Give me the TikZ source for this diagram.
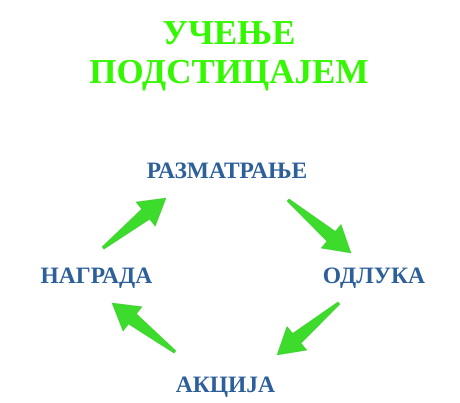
\documentclass[tikz,border=0pt]{standalone}
\usepackage{fontspec}
\setmainfont{Liberation Serif}
\usepackage{tikz}
\usepackage{xcolor}
\usetikzlibrary{calc,positioning}
\definecolor{TitleGreen}{HTML}{33F800}
\definecolor{ArrowGreen}{HTML}{3DDB2B}
\definecolor{StepBlue}{HTML}{2D5F9A}
\tikzset{
  cytitle/.style={text=TitleGreen, font=\fontsize{35}{40}\selectfont\bfseries, anchor=base, inner sep=0pt},
  cystep/.style={text=StepBlue, font=\fontsize{23.5}{26}\selectfont\bfseries, anchor=base, inner sep=0pt},
  cyarrow/.style={fill=ArrowGreen, draw=ArrowGreen!85!black, draw opacity=0.35, line width=0.8pt, line join=round}
}
% tapered block arrow between two named coordinates
\newcommand{\cyclearrow}[2]{%
  \coordinate (hb) at ($(#2)!26pt!(#1)$);
  \path[cyarrow] ($(#1)!1.5pt!90:(#2)$) -- ($(hb)!6.5pt!90:(#2)$) -- ($(hb)!15.5pt!90:(#2)$) -- (#2)
    -- ($(hb)!15.5pt!-90:(#2)$) -- ($(hb)!6.5pt!-90:(#2)$) -- ($(#1)!1.5pt!-90:(#2)$) -- cycle;
}

\begin{document}
\begin{tikzpicture}[x=1pt, y=1pt]
  \useasboundingbox (0,0) rectangle (460,402);
  \node[cytitle] (title) at (229,357) {УЧЕЊЕ};
  \node[cytitle] (subtitle) at (229,318) {ПОДСТИЦАЈЕМ};
  \node[cystep] (think) at (227,223.5) {РАЗМАТРАЊЕ};
  \node[cystep] (decide) at (374,119) {ОДЛУКА};
  \node[cystep] (act) at (225.5,10) {АКЦИЈА};
  \node[cystep] (reward) at (96.5,119) {НАГРАДА};
  % arrow ends
  \coordinate (r1) at (103,154);
  \coordinate (t1) at (166,204);
  \coordinate (t2) at (288,202);
  \coordinate (d2) at (351,149);
  \coordinate (d3) at (339,99);
  \coordinate (a3) at (277,47);
  \coordinate (a4) at (175,50);
  \coordinate (r4) at (112,99);
  \cyclearrow{r1}{t1}
  \cyclearrow{t2}{d2}
  \cyclearrow{d3}{a3}
  \cyclearrow{a4}{r4}
\end{tikzpicture}
\end{document}
